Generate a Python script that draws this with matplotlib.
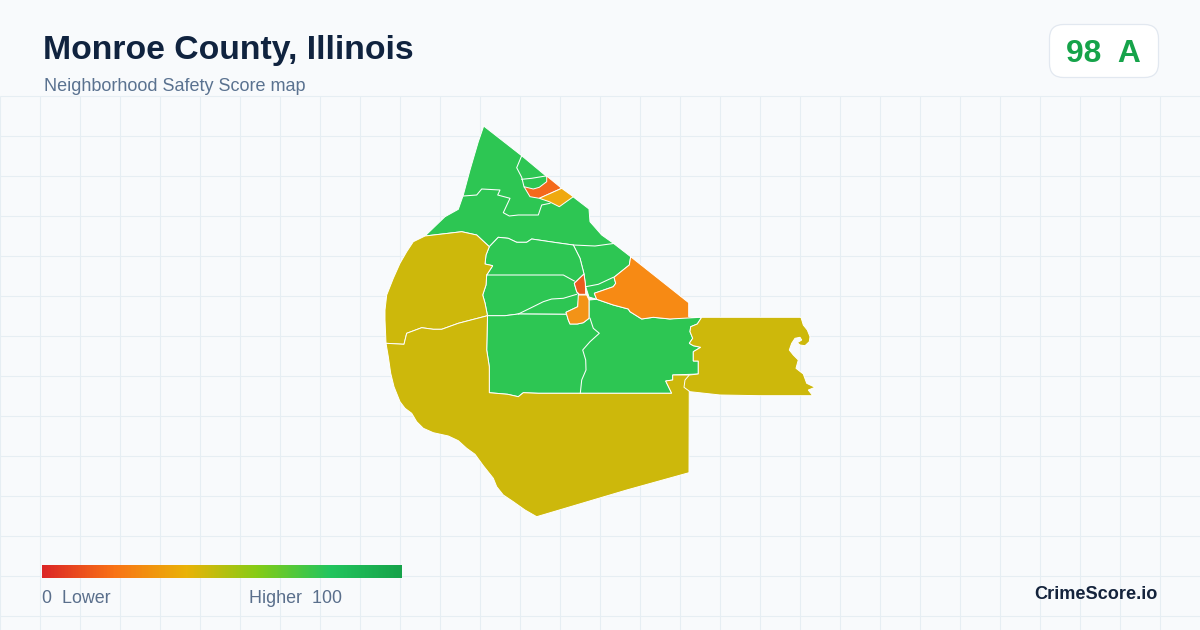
import numpy as np
import matplotlib
matplotlib.use('Agg')
import matplotlib.pyplot as plt
from matplotlib.colors import LinearSegmentedColormap
from matplotlib.patches import FancyBboxPatch

plt.rcParams['font.family'] = ['Liberation Sans', 'DejaVu Sans']

# tract outlines
west_olive = [(425,236),(413.3,241.7),(406.7,251.7),(400,263.3),(393.3,278.3),(386.7,295),(385,310),(385,320),(386,343.3),(404,344.3),
              (406.7,333.3),(421.7,327.7),(433.3,329.3),(441.7,329.3),(458.3,323.3),(487.5,315.7),(485,303),
              (482.7,295),(486,285),(486.7,275),(492.7,265.7),(485,264),(486,255),(489.3,246.7),(476.7,235),
              (461.7,231.7),(448.3,233.3)]
south_olive = [(386,343.3),(388.3,356.7),(390.7,373.3),(394,386.7),(400,401.7),(405,408.3),(411.7,413.3),(416.7,421.7),
               (423.3,428.3),(433.3,432.7),(448.3,436),(458.3,440.7),(466.7,448.3),(475,454.3),(483.3,465.7),(493.3,478.3),
               (496.7,486.7),(503.3,495),(513.3,501.7),(525,510),(536.7,516.7),(626.7,490),(689,472.7),
               (689.3,375),(672.7,375),(672.7,380),(665.7,381),(671.7,393.3),(538.3,393.3),(523.3,392.7),
               (518.3,396.7),(507.7,394.3),(489.3,392.7),(489.3,366.7),(486.7,350),(487.5,315.7),(458.3,323.3),
               (441.7,329.3),(433.3,329.3),(421.7,327.7),(406.7,333.3),(404,344.3)]
east_olive = [(701.7,317.3),(801,317.3),(803.3,325),(807.3,330),(810,336.7),(809.3,341.7),(805,345.7),(800,345),(797.3,342.7),
              (801.7,340),(800,337.3),(795,338.3),(791.7,343.3),(789.3,350),(793.3,355),(798.3,360),(796,368.3),(803.3,374),
              (806.7,383.3),(815,387.3),(808.3,390),(812.7,395.7),(760,395.7),(720,395),(690,391.7),(684,387.3),(685,380),(689.3,375),
              (698.3,374),(698.3,361),(693.3,361),(693.3,351.7),(700.7,347.3),(693.3,345.7),(689.3,343.3),
              (692.7,338.3),(690,331.7),(690.7,326.7),(697.3,324)]
north_green = [(483.7,126),(521.7,155.7),(545.7,175.7),(562.7,189),(573,196.7),(589,209),(590,221.7),(601.7,235),
               (613,243),(630.7,256.7),(629.3,265),(614,277.3),(615.7,283.3),(613.3,286.7),(594.3,293.3),(596.7,299.3),
               (589,297),(585.7,286.7),(584,274),(580,258.3),(573.3,245),(556.7,242.7),(531.7,239),(526.7,242.3),
               (516.7,242.3),(508.3,238.3),(498.3,237.3),(489.3,246.7),(476.7,235),(461.7,231.7),(448.3,233.3),
               (425,236),(445,216.7),(458.3,209.3),(463.3,195),(470,170),(478.3,141.7)]
centre_green = [(489.3,246.7),(498.3,237.3),(508.3,238.3),(516.7,242.3),(526.7,242.3),(531.7,239),(556.7,242.7),
                (573.3,245),(580,258.3),(584,274),(574.3,283.3),(576.7,291.7),(579,295),(577.7,306.7),(566,312.3),
                (566.7,314.3),(518.3,314),(505,315.7),(487.5,315.7),(485,303),(482.7,295),(486,285),(486.7,275),
                (492.7,265.7),(485,264),(486,255)]
south_green = [(487.5,315.7),(505,315.7),(518.3,314),(566.7,314.3),(568.3,320),(570,324),(577.3,324),(583.3,322.7),
               (589,318.3),(589,300),(596.7,299.3),(613.3,305),(628.3,309),(630,311.7),(641.7,319),(653.3,317.3),
               (670,319),(688.3,316.7),(701.7,317.3),(697.3,324),(690.7,326.7),(690,331.7),(692.7,338.3),(689.3,343.3),
               (693.3,345.7),(700.7,347.3),(693.3,351.7),(693.3,361),(698.3,361),(698.3,374),(672.7,375),(672.7,380),
               (665.7,381),(671.7,393.3),(538.3,393.3),(523.3,392.7),(518.3,396.7),(507.7,394.3),(489.3,392.7),
               (489.3,366.7),(486.7,350)]
east_orange = [(630.7,256.7),(688.7,302.7),(688.7,316.7),(701,317.3),(688.3,318),(670,319),(653.3,317.3),(641.7,319),
               (630,311.7),(628.3,309),(613.3,305),(596.7,299.3),(594.3,293.3),(613.3,286.7),(615.7,283.3),
               (614,277.3),(629.3,265)]
centre_orange = [(578.3,295),(586.7,295),(589,300),(589,318.3),(583.3,322.7),(577.3,324),(570,324),(568.3,320),
                 (566,312.3),(577.7,306.7)]
centre_red = [(584,274),(574.3,283.3),(576.7,291.7),(579.3,294.3),(585.7,294.3),(585.3,283.3)]
north_red = [(546.7,176),(561.7,188.3),(539.3,198.3),(530,196.7),(524,186.7),(533.3,189),(539.3,187.3),(546.7,181.7)]
north_amber = [(561.7,188.3),(573.3,196.7),(559.3,206.7),(549.3,201.7),(539.3,198.3)]

# inner tract borders inside the green areas
border_a = [(463.3,196),(476.7,195),(481.7,189),(500,190),(497.7,195),(510,198.3),(503.3,212.7),(509.3,216),(518.3,215),
            (538.3,215),(541.7,205),(550,203.3)]
border_b = [(521.7,155.7),(516.7,167.7),(521.7,177.3),(524,186.7)]
border_c = [(521.7,179.3),(531.7,178.3),(545.7,176)]
border_d = [(615,243.3),(595,246),(573.3,245)]
border_e = [(486.7,275),(563.3,275),(574.3,281)]
border_f = [(518.3,314),(530,308.3),(543.3,301.7),(551.7,299),(563.3,298.3),(576.7,294.3)]
border_g = [(590,318.3),(593.3,328.3),(599.3,333.3),(590,341.7),(582.7,350),(585.7,360),(586,370),(581.7,380),(580.3,393.3)]
border_h = [(585.7,286.7),(598.3,284.3),(613.3,277.3)]
inner_borders = [border_a, border_b, border_c, border_d, border_e, border_f, border_g, border_h]

green = '#2dc653'
olive = '#cdb80b'
tracts = [(north_green, green), (centre_green, green), (south_green, green),
          (west_olive, olive), (south_olive, olive), (east_olive, olive),
          (east_orange, '#f78a14'), (centre_orange, '#f39317'), (centre_red, '#ea5a1e'),
          (north_red, '#f4691c'), (north_amber, '#efa90f')]

legend_colors = ['#dc2626', '#f97316', '#eab308', '#84cc16', '#22c55e', '#16a34a']

fig = plt.figure(figsize=(12, 6.3), dpi=100, facecolor='#f8fafc')
ax = fig.add_axes([0, 0, 1, 1])
ax.axis('off')

# background grid
ax.vlines(np.arange(0, 1200, 40), 96, 630, color='#e6eef3', lw=0.75, zorder=0)
ax.hlines(np.arange(96, 630, 40), 0, 1200, color='#e6eef3', lw=0.75, zorder=0)

for pts, col in tracts:
    ax.fill(*zip(*pts), facecolor=col, edgecolor='white', lw=0.7, zorder=2)
for pts in inner_borders:
    ax.plot(*zip(*pts), color='white', lw=0.75, zorder=3)

# legend bar
cmap = LinearSegmentedColormap.from_list('score', legend_colors)
ax.imshow(np.linspace(0, 1, 360).reshape(1, -1), cmap=cmap, extent=(42, 402, 578, 565), aspect='auto', zorder=2)

ax.set_xlim(0, 1200)
ax.set_ylim(630, 0)

# score badge
ax.add_patch(FancyBboxPatch((1049.5, 24.5), 109, 53, boxstyle='round,pad=0,rounding_size=14',
                            fc='white', ec='#e2e8f0', lw=0.9, zorder=2))

ax.text(43, 59, 'Monroe County, Illinois', fontsize=24.3, fontweight='bold', color='#10233f', va='baseline')
ax.text(44, 91, 'Neighborhood Safety Score map', fontsize=13, color='#5a7290', va='baseline')
ax.text(1066, 62, '98  A', fontsize=22.9, fontweight='bold', color='#16a34a', va='baseline', zorder=4)
ax.text(42, 603, '0  Lower', fontsize=12.9, color='#5a6f8c', va='baseline')
ax.text(342, 603, 'Higher  100', fontsize=12.9, color='#5a6f8c', va='baseline', ha='right')
ax.text(1158, 599, 'CrimeScore.io', fontsize=13.1, fontweight='bold', color='#14233c', va='baseline', ha='right')

fig.savefig('out.png', dpi=100, facecolor=fig.get_facecolor())
